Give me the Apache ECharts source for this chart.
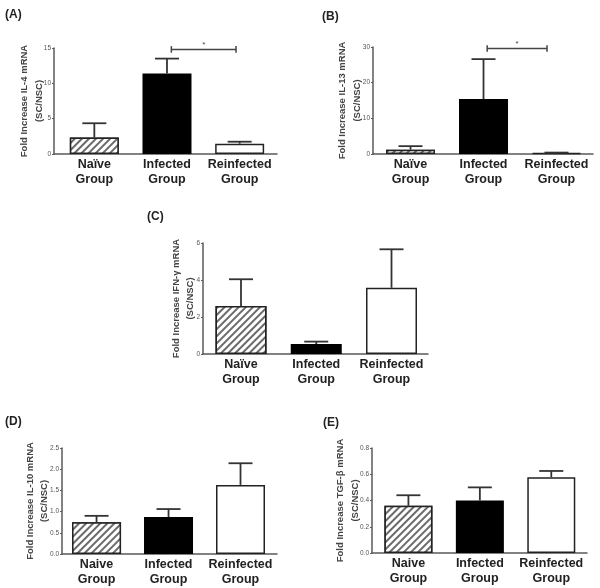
<!DOCTYPE html>
<html>
<head>
<meta charset="utf-8">
<script src="https://cdn.jsdelivr.net/npm/echarts@6/dist/echarts.min.js"></script>
<style>html,body{margin:0;padding:0;background:#fff}#c{width:600px;height:588px}</style>
</head>
<body>
<div id="c"></div>
<script>
// ---- data ----
const groupsABC = ['Naïve\nGroup', 'Infected\nGroup', 'Reinfected\nGroup'];
const groupsDE = ['Naive\nGroup', 'Infected\nGroup', 'Reinfected\nGroup'];

const il4Mean = [2.35, 11.4, 1.46];
const il4Upper = [4.35, 13.5, 1.74];
const il13Mean = [1.2, 15.4, 0.3];
const il13Upper = [2.2, 26.6, 0.4];
const ifngMean = [2.59, 0.54, 3.58];
const ifngUpper = [4.04, 0.67, 5.66];
const il10Mean = [0.75, 0.87, 1.63];
const il10Upper = [0.90, 1.06, 2.14];
const tgfMean = [0.36, 0.40, 0.577];
const tgfUpper = [0.44, 0.50, 0.625];

const sigA = [1.06, 1.95, 14.8]; // from, to, level
const sigB = [1.05, 1.87, 29.6];

const panelLabels = ['(A)', '(B)', '(C)', '(D)', '(E)'];
const yNames = [
  'Fold Increase IL-4 mRNA\n(SC/NSC)',
  'Fold Increase IL-13 mRNA\n(SC/NSC)',
  'Fold Increase IFN-γ mRNA\n(SC/NSC)',
  'Fold Increase IL-10 mRNA\n(SC/NSC)',
  'Fold Increase TGF-β mRNA\n(SC/NSC)'
];
const yMax = [15, 30, 6, 2.5, 0.8];
const yStep = [5, 10, 2, 0.5, 0.2];
const yDecimals = [0, 0, 0, 1, 1];

// ---- layout / style ----
const layout = [
  {left: 54, top: 48, width: 223, height: 106, xmin: -0.555, xmax: 2.514, bw: 49, lx: 5, ly: 9, ng: 7.5},
  {left: 373, top: 47, width: 220, height: 107, xmin: -0.514, xmax: 2.5, bw: 49, lx: 322, ly: 11, ng: 8.5},
  {left: 203, top: 243, width: 225, height: 111, xmin: -0.505, xmax: 2.485, bw: 51, lx: 147, ly: 211, ng: 5},
  {left: 62, top: 448, width: 215, height: 106, xmin: -0.48, xmax: 2.507, bw: 49, lx: 5, ly: 416, ng: 10},
  {left: 372, top: 448, width: 215, height: 105, xmin: -0.51, xmax: 2.5, bw: 48, lx: 323, ly: 417, ng: 9.5}
];

const means = [il4Mean, il13Mean, ifngMean, il10Mean, tgfMean];
const uppers = [il4Upper, il13Upper, ifngUpper, il10Upper, tgfUpper];
const cats = [groupsABC, groupsABC, groupsABC, groupsDE, groupsDE];
const sigs = [sigA, sigB, null, null, null];

const hatch = {
  symbol: 'rect', symbolSize: 1, color: '#6a6a6a', backgroundColor: '#fff',
  dashArrayX: [1, 0], dashArrayY: [1.2, 2.6], rotation: -Math.PI / 4
};
const barStyles = [
  {color: '#fff', borderColor: '#222', borderWidth: 1.5, decal: hatch},
  {color: '#000', borderColor: '#000', borderWidth: 1.5},
  {color: '#fff', borderColor: '#222', borderWidth: 1.5}
];

const axisColor = '#5a5a5a';
const option = {
  animation: false,
  backgroundColor: '#fff',
  title: [], grid: [], xAxis: [], yAxis: [], series: []
};

layout.forEach((L, i) => {
  option.title.push({
    text: panelLabels[i], left: L.lx, top: L.ly, padding: 0,
    textStyle: {fontFamily: 'Liberation Sans', fontSize: 12, fontWeight: 'bold', color: '#222'}
  });
  option.grid.push({left: L.left, top: L.top, width: L.width, height: L.height, containLabel: false});
  const catList = cats[i];
  option.xAxis.push({
    gridIndex: i, type: 'value', min: L.xmin, max: L.xmax,
    splitLine: {show: false},
    axisLine: {show: true, onZero: false, lineStyle: {color: axisColor, width: 1.5}},
    axisTick: {show: false},
    axisLabel: {
      customValues: [0, 1, 2],
      formatter: v => catList[Math.round(v)],
      fontFamily: 'Liberation Sans', fontSize: 12.5, fontWeight: 'bold', color: '#222',
      lineHeight: 15, margin: 3
    }
  });
  const dec = yDecimals[i];
  option.yAxis.push({
    gridIndex: i, type: 'value', min: 0, max: yMax[i], interval: yStep[i],
    name: yNames[i], nameLocation: 'middle', nameGap: L.ng, nameRotate: 90,
    nameMoveOverlap: false,
    nameTextStyle: {fontFamily: 'Liberation Sans', fontSize: 9.5, fontWeight: 'bold', color: '#444', lineHeight: 14.5, align: 'center'},
    splitLine: {show: false},
    axisLine: {show: true, onZero: false, lineStyle: {color: axisColor, width: 1.5}},
    axisTick: {show: true, length: 2, lineStyle: {color: axisColor, width: 1}},
    axisLabel: {fontFamily: 'Liberation Sans', fontSize: 6.5, color: '#555', margin: 3,
      formatter: v => v.toFixed(dec)}
  });
  option.series.push({
    type: 'bar', xAxisIndex: i, yAxisIndex: i, barWidth: L.bw,
    data: means[i].map((m, k) => ({value: [k, m], itemStyle: barStyles[k]})),
    z: 2
  });
  option.series.push({
    type: 'custom', xAxisIndex: i, yAxisIndex: i,
    encode: {x: 0, y: [1, 2]},
    data: means[i].map((m, k) => [k, m, uppers[i][k]]),
    renderItem: (params, api) => {
      const x = api.value(0), m = api.value(1), u = api.value(2);
      const p0 = api.coord([x, m]), p1 = api.coord([x, u]);
      const hw = 12;
      const st = {stroke: '#333', lineWidth: 1.8};
      return {type: 'group', children: [
        {type: 'line', shape: {x1: p0[0], y1: p0[1], x2: p1[0], y2: p1[1]}, style: st},
        {type: 'line', shape: {x1: p1[0] - hw, y1: p1[1], x2: p1[0] + hw, y2: p1[1]}, style: st}
      ]};
    },
    z: 3
  });
  if (sigs[i]) {
    option.series.push({
      type: 'custom', xAxisIndex: i, yAxisIndex: i,
      encode: {x: [0, 1], y: 2},
      data: [sigs[i]],
      renderItem: (params, api) => {
        const a = api.coord([api.value(0), api.value(2)]);
        const b = api.coord([api.value(1), api.value(2)]);
        const st = {stroke: '#444', lineWidth: 1.5};
        return {type: 'group', children: [
          {type: 'line', shape: {x1: a[0], y1: a[1], x2: b[0], y2: b[1]}, style: st},
          {type: 'line', shape: {x1: a[0], y1: a[1] - 3.3, x2: a[0], y2: a[1] + 3.3}, style: st},
          {type: 'line', shape: {x1: b[0], y1: b[1] - 3.3, x2: b[0], y2: b[1] + 3.3}, style: st},
          {type: 'text', style: {text: '*', x: (a[0] + b[0]) / 2, y: a[1] - 1, align: 'center', verticalAlign: 'bottom',
            fontFamily: 'Liberation Sans', fontSize: 8, fill: '#444'}}
        ]};
      },
      z: 3
    });
  }
});

const chart = echarts.init(document.getElementById('c'), null, {renderer: 'canvas'});
chart.setOption(option);
</script>
</body>
</html>
